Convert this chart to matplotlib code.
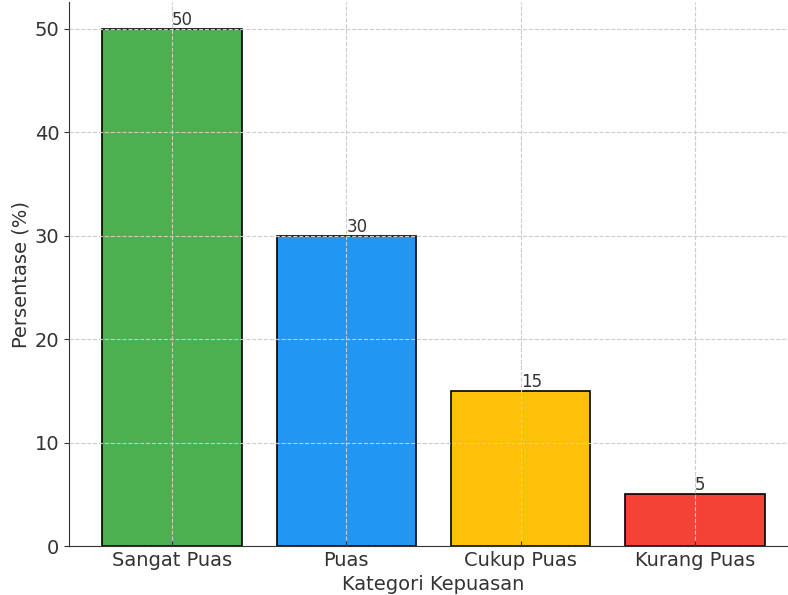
import matplotlib.pyplot as plt

kategori = ['Sangat Puas', 'Puas', 'Cukup Puas', 'Kurang Puas']
persentase = [50, 30, 15, 5]
warna = ['#4CAF50', '#2196F3', '#FFC107', '#F44336']

fig = plt.figure(figsize=(7.88, 5.95), dpi=100)
# axes deliberately run past the top/right edge, like the cropped original
ax = fig.add_axes([69 / 788, 49 / 595, (798 - 69) / 788, (546 - 2) / 595])

bars = ax.bar(kategori, persentase, color=warna, edgecolor='black', linewidth=1.2, zorder=2)
for b in bars:
    h = b.get_height()
    ax.text(b.get_x() + b.get_width() / 2., h, '%d' % h, ha='left', va='bottom',
            fontsize=12, color='#333333', zorder=3)

ax.set_ylim(0, 52.6)
ax.set_xlabel('Kategori Kepuasan', fontsize=14, color='#333333', labelpad=4)
ax.set_ylabel('Persentase (%)', fontsize=14, color='#333333', labelpad=3)
ax.grid(True, linestyle='--', color='#cccccc', linewidth=0.8, zorder=0)
ax.set_axisbelow(False)
ax.tick_params(axis='both', labelsize=14, colors='#333333')
ax.tick_params(axis='x', direction='in')
ax.spines['top'].set_visible(False)
ax.spines['right'].set_visible(False)
ax.spines['left'].set_color('#333333')
ax.spines['bottom'].set_color('#333333')

plt.savefig('out.png', dpi=100)
plt.close(fig)
